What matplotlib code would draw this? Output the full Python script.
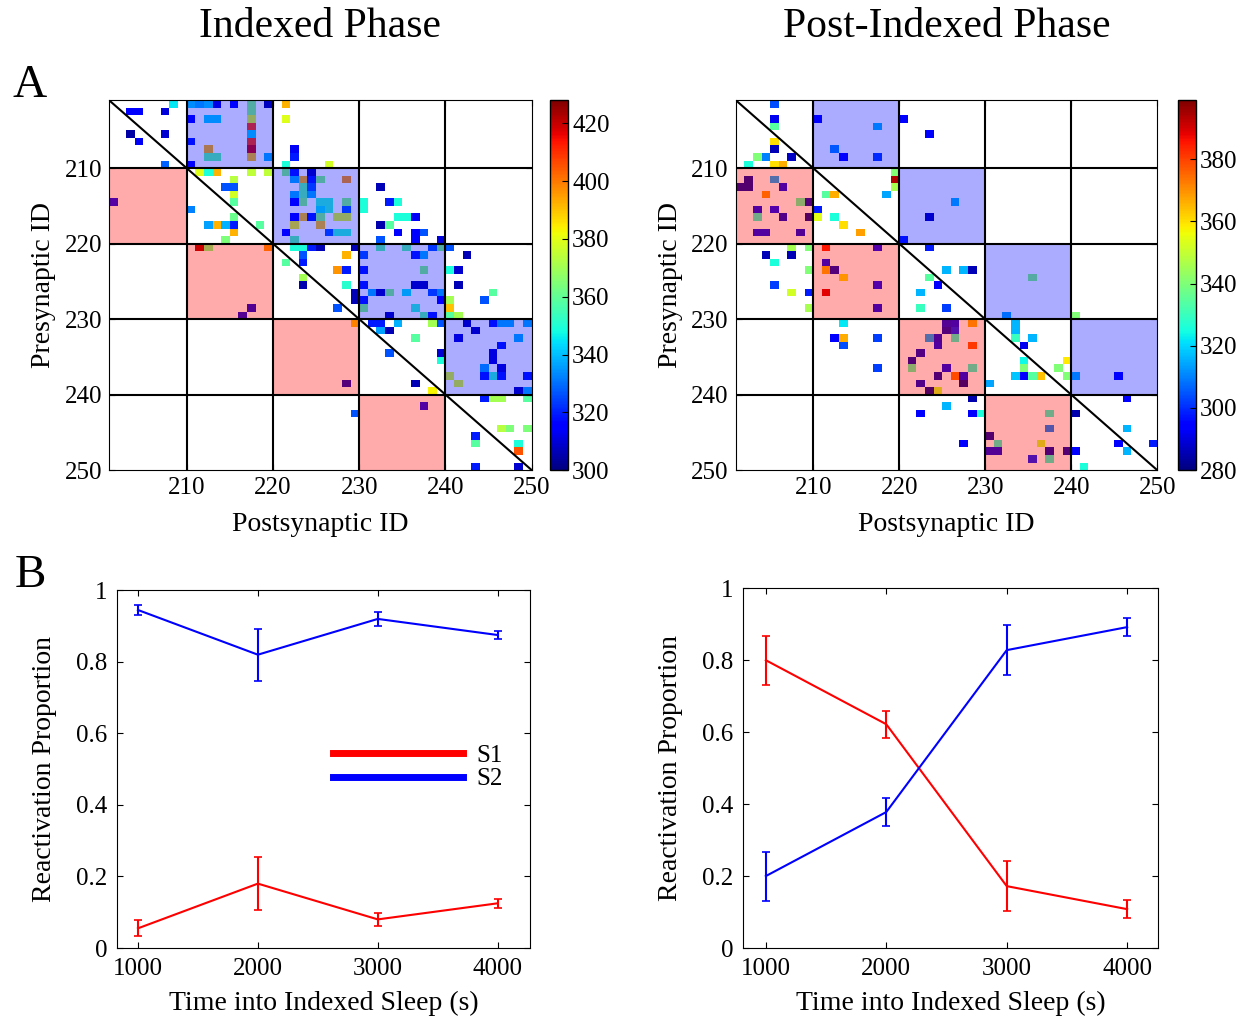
import numpy as np
import matplotlib
matplotlib.use('Agg')
import matplotlib.pyplot as plt
from matplotlib.patches import Rectangle
from matplotlib.lines import Line2D

plt.rcParams['font.family'] = ['Liberation Serif', 'DejaVu Serif']

# synaptic weights, indexed phase (presynaptic row -> postsynaptic cols / weights)
idx_rows = [201, 202, 203, 204, 205, 206, 207, 208, 209, 210, 211, 212, 213, 214, 215, 216,
            217, 218, 219, 220, 221, 222, 223, 224, 225, 226, 227, 228, 229, 230, 231, 232,
            233, 234, 235, 236, 237, 238, 239, 240, 241, 242, 244, 245, 246, 247, 249]
idx_cols = [
    [208, 210, 211, 212, 213, 215, 217, 219, 221],
    [203, 204, 207, 217],
    [210, 212, 213, 217, 221],
    [217],
    [203, 207, 217],
    [204, 210, 217],
    [212, 217, 222],
    [212, 213, 217, 219, 222],
    [207, 210, 221, 226],
    [211, 212, 213, 217, 219, 221, 222, 224],
    [215, 222, 223, 224, 225, 228],
    [214, 215, 223, 224, 232],
    [215, 222, 223, 224],
    [201, 215, 222, 223, 225, 226, 228, 230, 233, 234],
    [210, 225, 226, 228, 230],
    [215, 222, 223, 224, 225, 227, 228, 234, 235, 236],
    [212, 213, 214, 215, 218, 222, 225, 232, 233],
    [215, 221, 226, 227, 228, 234, 236, 237],
    [214, 222, 232, 236, 239],
    [211, 212, 219, 222, 223, 224, 225, 229, 232, 235, 238, 239, 240],
    [223, 228, 230, 236, 237, 242],
    [221, 223],
    [227, 228, 230, 237, 240, 241],
    [223],
    [223, 228, 230, 236, 237, 241],
    [229, 231, 232, 233, 235, 238, 239, 245],
    [229, 230, 239, 240, 244],
    [217, 227, 230, 236, 240],
    [216, 233, 237, 238, 240, 241],
    [229, 231, 232, 234, 238, 239, 242, 245, 246, 247, 249],
    [232, 233, 243],
    [236, 241, 248],
    [246],
    [233, 239, 245],
    [239, 245],
    [244, 246],
    [240, 244, 245, 246, 249],
    [228, 236, 241],
    [238, 248, 249],
    [244, 245, 246, 249],
    [237],
    [229],
    [246, 247, 249],
    [243],
    [243, 248],
    [248],
    [243, 248],
]
idx_vals = [
    [345, 342, 338, 342, 310, 315, 364, 304, 392],
    [315, 315, 310, 364],
    [315, 342, 342, 379, 379],
    [409],
    [304, 309, 342],
    [313, 319, 409],
    [392, 419, 313],
    [358, 358, 390, 338, 319],
    [328, 315, 349, 377],
    [379, 349, 392, 374, 374, 364, 319, 306],
    [373, 338, 392, 319, 364, 396],
    [326, 326, 358, 326, 306],
    [377, 338, 358, 338],
    [313, 358, 315, 364, 351, 351, 364, 349, 319, 349],
    [332, 345, 351, 326, 349],
    [361, 315, 390, 319, 364, 379, 379, 349, 349, 313],
    [336, 392, 338, 319, 358, 383, 390, 305, 358],
    [392, 315, 326, 351, 351, 315, 315, 326],
    [364, 358, 326, 315, 310],
    [422, 364, 396, 349, 349, 319, 306, 306, 358, 358, 326, 364, 326],
    [326, 392, 326, 319, 338, 306],
    [358, 319],
    [396, 319, 319, 364, 349, 309],
    [370],
    [305, 351, 319, 306, 306, 306],
    [306, 338, 306, 364, 345, 326, 338, 358],
    [306, 319, 315, 370, 326],
    [310, 326, 364, 351, 390],
    [310, 306, 358, 319, 358, 370],
    [390, 319, 319, 338, 370, 326, 306, 319, 338, 338, 338],
    [336, 306, 306],
    [358, 309, 338],
    [319],
    [326, 309, 309],
    [349, 309],
    [336, 309],
    [379, 319, 351, 319, 319],
    [306, 306, 379],
    [383, 306, 338],
    [319, 370, 370, 358],
    [313],
    [326],
    [373, 364, 364],
    [319],
    [358, 349],
    [405],
    [319, 309],
]

# synaptic weights, post-indexed phase
post_rows = [201, 203, 204, 205, 206, 207, 208, 209, 210, 211, 212, 213, 214, 215, 216, 217,
             218, 219, 220, 221, 222, 223, 224, 225, 226, 228, 229, 230, 231, 232, 233, 234,
             235, 236, 237, 238, 239, 240, 241, 242, 244, 245, 246, 247, 248, 249]
post_cols = [
    [205],
    [205, 210, 220],
    [205, 217],
    [223],
    [205],
    [205, 212],
    [203, 204, 207, 213, 217],
    [202, 205, 206],
    [219],
    [202, 205, 219],
    [201, 202, 206, 219],
    [204, 211, 212, 218],
    [208, 209, 226],
    [203, 205, 210],
    [203, 206, 209, 210, 212, 223],
    [213],
    [203, 204, 208, 215],
    [220],
    [207, 209, 211, 217, 223],
    [204, 207],
    [205, 211],
    [209, 211, 212, 225, 227, 228],
    [213, 223, 235],
    [205, 217, 224],
    [207, 209, 211, 222],
    [209, 217, 222, 225],
    [232, 240],
    [213, 225, 226, 228, 233],
    [225, 226, 233],
    [212, 213, 217, 223, 224, 226, 233, 235],
    [213, 224, 228, 234],
    [222],
    [221, 234, 239],
    [217, 221, 225, 228, 234, 238],
    [224, 226, 227, 233, 234, 235, 236, 239, 240, 245],
    [222, 227, 230],
    [223, 224],
    [228, 246],
    [225],
    [222, 228, 229, 237, 240],
    [237, 246],
    [230],
    [227, 231, 236, 245, 249],
    [230, 231, 237, 239, 240, 246],
    [235, 237],
    [241],
]
post_vals = [
    [304],
    [292, 294, 294],
    [334, 316],
    [294],
    [360],
    [286, 310],
    [340, 310, 287, 294, 302],
    [326, 360, 366],
    [340],
    [284, 314, 394],
    [284, 284, 292, 346],
    [370, 334, 366, 314],
    [334, 286, 316],
    [292, 294, 298],
    [328, 288, 282, 354, 326, 286],
    [360],
    [292, 292, 290, 368],
    [298],
    [346, 340, 384, 294, 298],
    [286, 286],
    [326, 292],
    [340, 366, 286, 316, 316, 286],
    [360, 334, 340],
    [302, 294, 294],
    [352, 298, 390, 316],
    [346, 292, 330, 302],
    [314, 340],
    [322, 290, 292, 366, 316],
    [286, 298, 316],
    [294, 366, 302, 314, 290, 328, 330, 316],
    [304, 292, 378, 292],
    [287],
    [285, 324, 359],
    [302, 334, 292, 328, 340, 340],
    [285, 374, 292, 318, 294, 334, 364, 340, 316, 294],
    [288, 282, 314],
    [282, 352],
    [285, 294],
    [316],
    [294, 294, 326, 328, 285],
    [310, 316],
    [284],
    [294, 328, 352, 294, 298],
    [290, 290, 285, 285, 294, 316],
    [298, 328],
    [326],
]

# reactivation proportions
times = [1000, 2000, 3000, 4000]
idx_s1 = [0.055, 0.18, 0.08, 0.125]
idx_s1_err = [0.022, 0.075, 0.018, 0.013]
idx_s2 = [0.945, 0.82, 0.92, 0.875]
idx_s2_err = [0.015, 0.073, 0.02, 0.012]
post_s1 = [0.80, 0.622, 0.172, 0.108]
post_s1_err = [0.068, 0.038, 0.07, 0.025]
post_s2 = [0.20, 0.378, 0.828, 0.892]
post_s2_err = [0.068, 0.038, 0.07, 0.025]

ids = np.arange(201, 252)
TICK_FS = 18
LABEL_FS = 20


def weight_grid(rows, cols, vals):
    grid = np.full((50, 50), np.nan)
    for r, cs, vs in zip(rows, cols, vals):
        for c, v in zip(cs, vs):
            grid[r - 201, c - 201] = v
    return np.ma.masked_invalid(grid)


def draw_weights(ax, cax, grid, vmin, vmax, cticks):
    mesh = ax.pcolormesh(ids, ids, grid, cmap='jet', vmin=vmin, vmax=vmax, zorder=1)
    # feedforward (blue) and feedback (red) blocks
    for k in range(4):
        lo = 201 if k == 0 else 200 + 10 * k
        ax.add_patch(Rectangle((210 + 10 * k, lo), 10, 210 + 10 * k - lo,
                               facecolor='blue', alpha=0.33, lw=0, zorder=2))
        ax.add_patch(Rectangle((lo, 210 + 10 * k), 210 + 10 * k - lo, 10,
                               facecolor='red', alpha=0.33, lw=0, zorder=2))
    for g in [210, 220, 230, 240]:
        ax.axvline(g, color='black', lw=1.5, zorder=3)
        ax.axhline(g, color='black', lw=1.5, zorder=3)
    ax.plot([201, 250], [201, 250], color='black', lw=1.5, zorder=3)
    ax.set_xlim(201, 250)
    ax.set_ylim(250, 201)
    ax.set_xticks([210, 220, 230, 240, 250])
    ax.set_yticks([210, 220, 230, 240, 250])
    ax.tick_params(direction='in', top=True, right=True, labelsize=TICK_FS, length=4, pad=5)
    ax.set_xlabel('Postsynaptic ID', fontsize=LABEL_FS, labelpad=9)
    ax.set_ylabel('Presynaptic ID', fontsize=LABEL_FS, labelpad=6)
    cb = plt.colorbar(mesh, cax=cax, ticks=cticks)
    cb.ax.tick_params(labelsize=TICK_FS, direction='in', length=4, pad=3)
    cb.outline.set_linewidth(1)


def draw_reactivation(ax, s1, e1, s2, e2, xlim):
    ax.errorbar(times, s1, yerr=e1, color='red', lw=1.5, capsize=3, capthick=1.2)
    ax.errorbar(times, s2, yerr=e2, color='blue', lw=1.5, capsize=3, capthick=1.2)
    ax.set_xlim(*xlim)
    ax.set_ylim(0, 1)
    ax.set_xticks(times)
    ax.set_yticks([0, 0.2, 0.4, 0.6, 0.8, 1])
    ax.set_yticklabels(['0', '0.2', '0.4', '0.6', '0.8', '1'])
    ax.tick_params(direction='in', top=True, right=True, labelsize=TICK_FS, length=4, pad=7)
    ax.set_xlabel('Time into Indexed Sleep (s)', fontsize=LABEL_FS, labelpad=8)
    ax.set_ylabel('Reactivation Proportion', fontsize=LABEL_FS, labelpad=14)


fig = plt.figure(figsize=(12.47, 10.22), dpi=100)

ax1 = fig.add_axes([0.0874, 0.540, 0.339, 0.362])
cax1 = fig.add_axes([0.441, 0.540, 0.0144, 0.362])
ax2 = fig.add_axes([0.590, 0.540, 0.338, 0.362])
cax2 = fig.add_axes([0.9447, 0.540, 0.0144, 0.362])
ax3 = fig.add_axes([0.0938, 0.0724, 0.331, 0.350])
ax4 = fig.add_axes([0.5958, 0.0724, 0.333, 0.352])

draw_weights(ax1, cax1, weight_grid(idx_rows, idx_cols, idx_vals), 300, 428,
             [300, 320, 340, 360, 380, 400, 420])
draw_weights(ax2, cax2, weight_grid(post_rows, post_cols, post_vals), 280, 399,
             [280, 300, 320, 340, 360, 380])

draw_reactivation(ax3, idx_s1, idx_s1_err, idx_s2, idx_s2_err, (825, 4267))
draw_reactivation(ax4, post_s1, post_s1_err, post_s2, post_s2_err, (810, 4258))

handles = [Line2D([], [], color='red', lw=5), Line2D([], [], color='blue', lw=5)]
ax3.legend(handles, ['S1', 'S2'], loc='center left', bbox_to_anchor=(0.47, 0.505),
           frameon=False, fontsize=TICK_FS, handlelength=5.2, handletextpad=0.5,
           labelspacing=0.05)

fig.text(0.257, 0.974, 'Indexed Phase', fontsize=30, ha='center', va='center')
fig.text(0.759, 0.974, 'Post-Indexed Phase', fontsize=30, ha='center', va='center')
fig.text(0.024, 0.916, 'A', fontsize=34, ha='center', va='center')
fig.text(0.024, 0.437, 'B', fontsize=34, ha='center', va='center')

plt.savefig('out.png', dpi=100)
